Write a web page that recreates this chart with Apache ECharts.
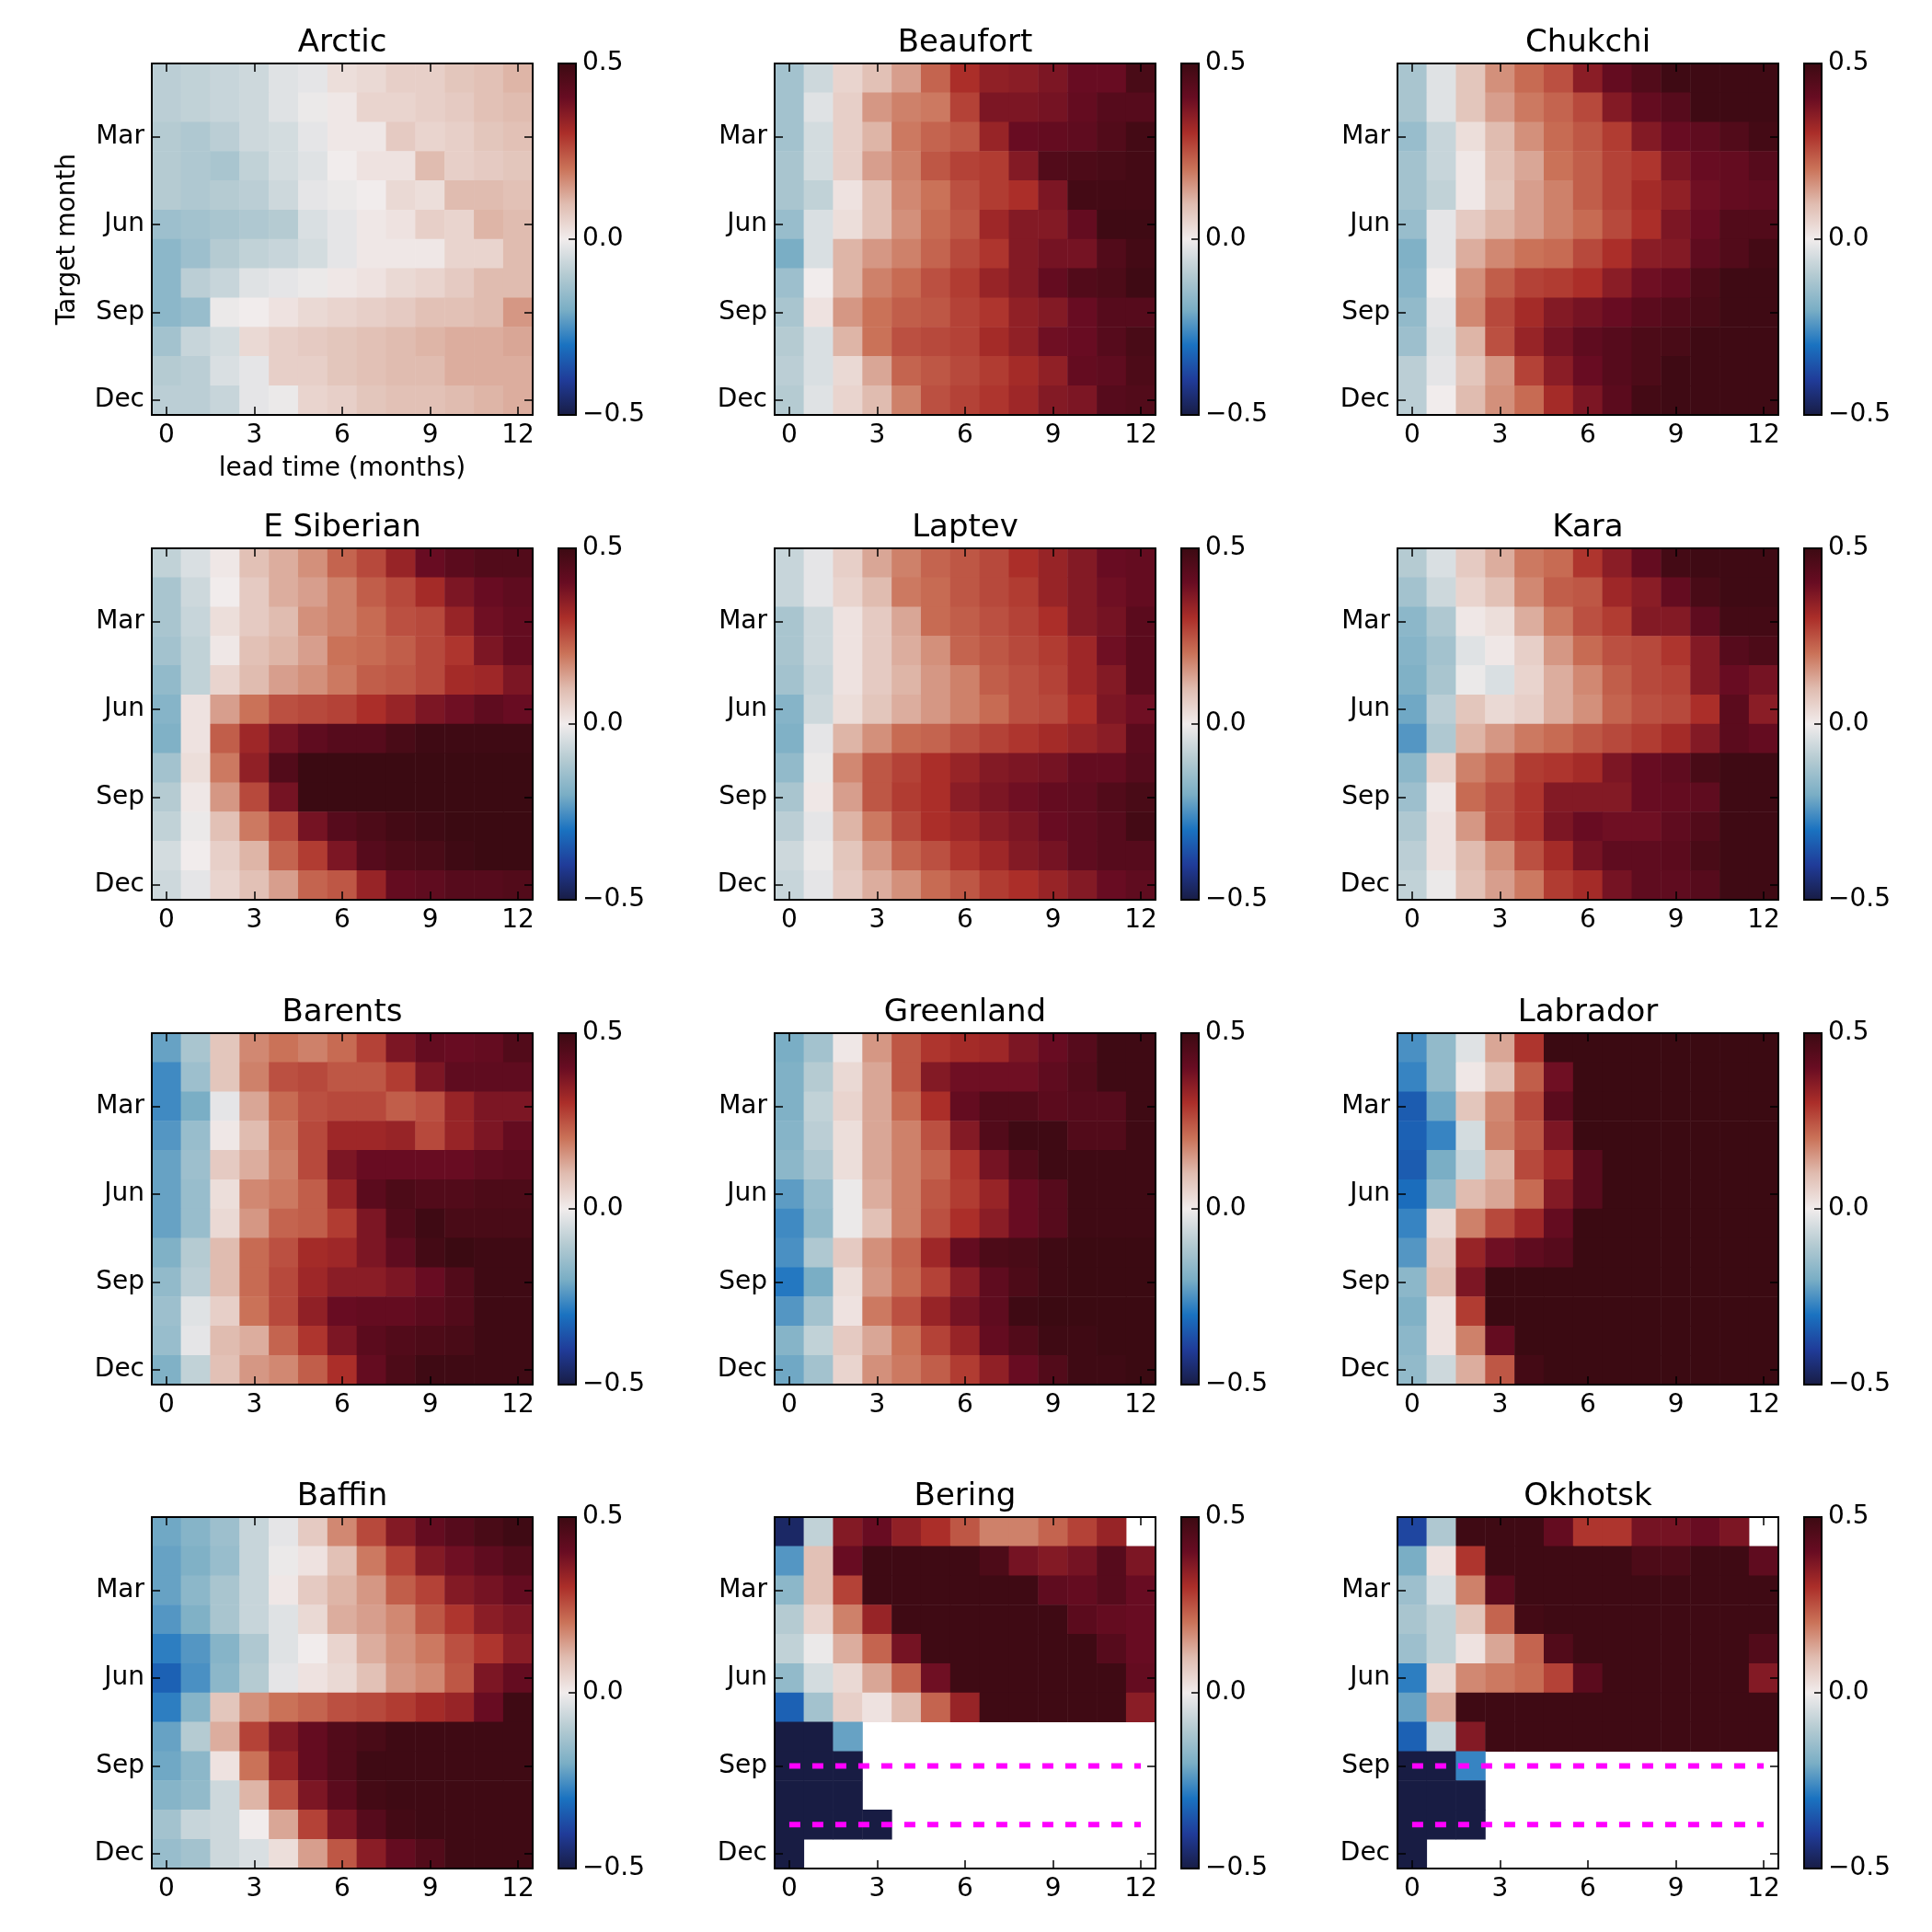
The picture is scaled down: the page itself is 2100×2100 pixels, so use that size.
<!DOCTYPE html>
<html><head><meta charset="utf-8">
<script src="https://cdn.jsdelivr.net/npm/echarts@6/dist/echarts.min.js"></script>
<style>html,body{margin:0;padding:0;background:#fff}#c{width:2100px;height:2100px}</style>
</head><body><div id="c"></div>
<script>
const leads = ['0','1','2','3','4','5','6','7','8','9','10','11','12'];
const months = ['Jan','Feb','Mar','Apr','May','Jun','Jul','Aug','Sep','Oct','Nov','Dec'];
const monthTicks = ['Mar','Jun','Sep','Dec'];
const leadTicks = ['0','3','6','9','12'];
const cbarTicks = [-0.5, 0, 0.5];
const regionNames = ['Arctic','Beaufort','Chukchi','E Siberian','Laptev','Kara','Barents','Greenland','Labrador','Baffin','Bering','Okhotsk'];
const dashedMonths = ['Sep','Nov'];
const dashedRegions = ['Bering','Okhotsk'];
const N = null;

const arctic = [
[-0.09,-0.08,-0.07,-0.06,-0.03,-0.02,0.03,0.04,0.06,0.06,0.08,0.09,0.11],
[-0.09,-0.08,-0.07,-0.06,-0.03,-0.01,0.01,0.05,0.05,0.06,0.07,0.09,0.10],
[-0.10,-0.11,-0.09,-0.06,-0.05,-0.02,0.01,0.01,0.07,0.05,0.06,0.08,0.09],
[-0.10,-0.11,-0.12,-0.08,-0.05,-0.03,0.00,0.02,0.02,0.10,0.06,0.07,0.08],
[-0.10,-0.11,-0.10,-0.09,-0.06,-0.02,-0.01,0.00,0.04,0.03,0.10,0.10,0.09],
[-0.14,-0.13,-0.12,-0.11,-0.10,-0.04,-0.02,0.01,0.02,0.06,0.05,0.11,0.10],
[-0.17,-0.14,-0.10,-0.08,-0.07,-0.05,-0.02,0.01,0.01,0.01,0.05,0.05,0.10],
[-0.17,-0.09,-0.07,-0.03,-0.02,-0.01,0.01,0.02,0.04,0.05,0.07,0.10,0.10],
[-0.17,-0.15,-0.01,0.00,0.02,0.04,0.05,0.06,0.07,0.09,0.09,0.10,0.15],
[-0.13,-0.07,-0.05,0.04,0.06,0.07,0.08,0.09,0.10,0.11,0.12,0.12,0.13],
[-0.10,-0.09,-0.04,-0.02,0.06,0.06,0.08,0.09,0.10,0.10,0.12,0.12,0.12],
[-0.09,-0.09,-0.07,-0.02,-0.01,0.05,0.06,0.08,0.09,0.09,0.10,0.11,0.12]];

const beaufort = [
[-0.13,-0.06,0.05,0.09,0.14,0.22,0.30,0.34,0.35,0.37,0.40,0.40,0.47],
[-0.13,-0.03,0.06,0.15,0.18,0.19,0.27,0.37,0.37,0.38,0.41,0.44,0.44],
[-0.13,-0.05,0.06,0.11,0.19,0.22,0.24,0.33,0.40,0.41,0.42,0.45,0.48],
[-0.12,-0.05,0.06,0.14,0.18,0.24,0.27,0.28,0.36,0.45,0.46,0.47,0.48],
[-0.12,-0.08,0.02,0.09,0.17,0.20,0.25,0.28,0.30,0.37,0.48,0.48,0.48],
[-0.15,-0.04,0.03,0.09,0.16,0.21,0.24,0.32,0.36,0.36,0.41,0.49,0.49],
[-0.20,-0.04,0.11,0.15,0.18,0.22,0.26,0.29,0.36,0.38,0.38,0.45,0.48],
[-0.14,0.00,0.11,0.18,0.21,0.25,0.28,0.33,0.36,0.41,0.45,0.46,0.49],
[-0.12,0.02,0.15,0.20,0.23,0.24,0.27,0.29,0.34,0.36,0.40,0.44,0.44],
[-0.10,-0.04,0.11,0.20,0.25,0.26,0.27,0.31,0.34,0.39,0.40,0.44,0.47],
[-0.09,-0.04,0.04,0.13,0.22,0.24,0.26,0.28,0.31,0.34,0.41,0.42,0.46],
[-0.10,-0.03,0.05,0.10,0.18,0.25,0.27,0.29,0.32,0.36,0.37,0.44,0.45]];

const chukchi = [
[-0.12,-0.03,0.08,0.16,0.21,0.25,0.35,0.41,0.45,0.49,0.49,0.49,0.49],
[-0.12,-0.03,0.08,0.14,0.19,0.22,0.26,0.36,0.41,0.44,0.49,0.49,0.49],
[-0.15,-0.07,0.03,0.10,0.16,0.21,0.24,0.28,0.36,0.40,0.42,0.45,0.48],
[-0.13,-0.07,0.01,0.09,0.13,0.20,0.23,0.27,0.29,0.37,0.40,0.41,0.44],
[-0.13,-0.08,0.01,0.08,0.14,0.18,0.23,0.27,0.31,0.34,0.39,0.41,0.42],
[-0.15,-0.02,0.07,0.11,0.14,0.18,0.21,0.26,0.30,0.37,0.40,0.45,0.45],
[-0.19,-0.02,0.12,0.17,0.20,0.21,0.26,0.30,0.35,0.36,0.42,0.45,0.48],
[-0.18,0.00,0.16,0.23,0.27,0.28,0.30,0.35,0.39,0.41,0.46,0.49,0.49],
[-0.16,-0.02,0.17,0.26,0.31,0.36,0.38,0.40,0.43,0.45,0.47,0.49,0.49],
[-0.14,-0.03,0.11,0.25,0.33,0.38,0.42,0.44,0.46,0.47,0.49,0.49,0.49],
[-0.09,-0.02,0.08,0.15,0.27,0.35,0.40,0.44,0.46,0.49,0.49,0.49,0.49],
[-0.09,0.00,0.10,0.16,0.21,0.31,0.37,0.43,0.48,0.49,0.49,0.49,0.49]];

const eSiberian = [
[-0.08,-0.04,0.01,0.09,0.12,0.16,0.22,0.26,0.33,0.40,0.43,0.45,0.45],
[-0.12,-0.06,0.00,0.07,0.12,0.14,0.18,0.23,0.26,0.31,0.37,0.40,0.42],
[-0.12,-0.07,0.03,0.07,0.10,0.16,0.18,0.21,0.25,0.26,0.33,0.39,0.41],
[-0.13,-0.08,0.01,0.09,0.11,0.14,0.20,0.21,0.23,0.26,0.29,0.37,0.41],
[-0.16,-0.08,0.05,0.10,0.14,0.16,0.19,0.23,0.24,0.26,0.31,0.32,0.37],
[-0.18,0.02,0.14,0.20,0.25,0.26,0.27,0.30,0.33,0.37,0.39,0.42,0.40],
[-0.19,0.02,0.23,0.32,0.38,0.42,0.44,0.44,0.47,0.49,0.49,0.49,0.49],
[-0.13,0.03,0.19,0.34,0.45,0.50,0.50,0.50,0.50,0.50,0.50,0.50,0.50],
[-0.10,0.01,0.15,0.26,0.38,0.50,0.50,0.50,0.50,0.50,0.50,0.50,0.50],
[-0.08,-0.01,0.09,0.19,0.26,0.38,0.44,0.46,0.48,0.49,0.50,0.50,0.50],
[-0.05,0.00,0.06,0.11,0.22,0.28,0.37,0.44,0.46,0.47,0.49,0.50,0.50],
[-0.06,-0.02,0.05,0.09,0.14,0.22,0.24,0.33,0.41,0.42,0.44,0.44,0.45]];

const laptev = [
[-0.07,-0.02,0.06,0.13,0.18,0.22,0.24,0.26,0.30,0.33,0.36,0.40,0.41],
[-0.07,-0.02,0.05,0.10,0.19,0.21,0.24,0.26,0.28,0.33,0.36,0.39,0.41],
[-0.12,-0.06,0.02,0.07,0.13,0.21,0.23,0.25,0.27,0.30,0.36,0.38,0.43],
[-0.12,-0.06,0.02,0.07,0.12,0.16,0.22,0.24,0.26,0.28,0.32,0.39,0.43],
[-0.13,-0.07,0.02,0.07,0.11,0.15,0.18,0.23,0.25,0.27,0.32,0.36,0.43],
[-0.18,-0.06,0.03,0.08,0.12,0.15,0.18,0.21,0.25,0.26,0.30,0.37,0.39],
[-0.19,-0.02,0.11,0.16,0.21,0.22,0.25,0.27,0.29,0.31,0.33,0.35,0.43],
[-0.16,-0.01,0.17,0.24,0.27,0.30,0.33,0.36,0.37,0.38,0.41,0.41,0.44],
[-0.12,0.01,0.14,0.24,0.28,0.30,0.35,0.37,0.39,0.41,0.42,0.45,0.47],
[-0.09,-0.02,0.11,0.19,0.26,0.30,0.32,0.35,0.37,0.40,0.42,0.44,0.48],
[-0.06,-0.01,0.08,0.15,0.22,0.25,0.29,0.32,0.36,0.38,0.42,0.44,0.44],
[-0.07,-0.02,0.07,0.12,0.16,0.21,0.24,0.28,0.30,0.33,0.36,0.40,0.42]];

const kara = [
[-0.10,-0.04,0.07,0.12,0.19,0.21,0.29,0.35,0.41,0.48,0.49,0.49,0.49],
[-0.13,-0.06,0.05,0.09,0.17,0.23,0.24,0.32,0.35,0.41,0.47,0.49,0.49],
[-0.17,-0.11,0.01,0.03,0.12,0.19,0.25,0.28,0.36,0.36,0.42,0.48,0.48],
[-0.18,-0.13,-0.03,0.01,0.06,0.15,0.21,0.25,0.26,0.29,0.36,0.44,0.46],
[-0.19,-0.12,-0.01,-0.04,0.05,0.12,0.17,0.23,0.26,0.27,0.36,0.40,0.38],
[-0.21,-0.09,0.08,0.04,0.06,0.12,0.16,0.22,0.25,0.26,0.30,0.43,0.35],
[-0.24,-0.11,0.11,0.15,0.19,0.21,0.24,0.26,0.28,0.31,0.36,0.43,0.41],
[-0.17,0.05,0.18,0.22,0.28,0.29,0.31,0.37,0.40,0.42,0.47,0.49,0.49],
[-0.14,0.01,0.21,0.25,0.29,0.36,0.36,0.36,0.40,0.41,0.42,0.49,0.49],
[-0.11,0.02,0.15,0.25,0.29,0.37,0.40,0.39,0.39,0.42,0.45,0.49,0.49],
[-0.09,0.02,0.10,0.16,0.25,0.31,0.38,0.42,0.42,0.43,0.47,0.49,0.49],
[-0.08,-0.01,0.09,0.14,0.19,0.28,0.31,0.38,0.42,0.42,0.44,0.49,0.49]];

const barents = [
[-0.22,-0.12,0.08,0.17,0.20,0.18,0.21,0.27,0.37,0.41,0.40,0.41,0.45],
[-0.26,-0.14,0.08,0.18,0.25,0.26,0.24,0.24,0.28,0.37,0.42,0.42,0.42],
[-0.26,-0.20,-0.02,0.13,0.21,0.25,0.26,0.26,0.23,0.25,0.33,0.37,0.37],
[-0.24,-0.15,0.01,0.10,0.19,0.26,0.32,0.32,0.33,0.26,0.33,0.37,0.41],
[-0.22,-0.14,0.07,0.12,0.18,0.26,0.37,0.40,0.40,0.40,0.40,0.42,0.43],
[-0.22,-0.15,0.03,0.17,0.19,0.23,0.33,0.43,0.46,0.45,0.45,0.46,0.46],
[-0.22,-0.15,0.04,0.15,0.22,0.23,0.28,0.37,0.45,0.49,0.47,0.47,0.47],
[-0.19,-0.10,0.10,0.21,0.25,0.31,0.32,0.37,0.42,0.48,0.50,0.49,0.49],
[-0.16,-0.09,0.10,0.21,0.26,0.32,0.35,0.35,0.37,0.40,0.45,0.49,0.49],
[-0.14,-0.03,0.06,0.20,0.26,0.34,0.40,0.41,0.41,0.43,0.45,0.49,0.49],
[-0.15,-0.02,0.10,0.12,0.22,0.29,0.37,0.43,0.45,0.46,0.47,0.49,0.49],
[-0.19,-0.08,0.09,0.15,0.17,0.23,0.30,0.41,0.46,0.49,0.49,0.49,0.49]];

const greenland = [
[-0.20,-0.13,0.01,0.15,0.24,0.29,0.31,0.32,0.37,0.40,0.44,0.49,0.49],
[-0.19,-0.10,0.04,0.13,0.24,0.36,0.39,0.39,0.39,0.42,0.45,0.49,0.49],
[-0.19,-0.08,0.05,0.13,0.21,0.30,0.41,0.45,0.45,0.43,0.44,0.44,0.49],
[-0.18,-0.09,0.03,0.13,0.18,0.25,0.36,0.45,0.49,0.49,0.45,0.45,0.49],
[-0.17,-0.11,0.03,0.13,0.18,0.22,0.29,0.38,0.45,0.49,0.49,0.49,0.49],
[-0.23,-0.15,-0.01,0.12,0.18,0.24,0.28,0.33,0.40,0.44,0.49,0.49,0.49],
[-0.26,-0.16,-0.01,0.09,0.18,0.25,0.30,0.35,0.40,0.44,0.49,0.49,0.49],
[-0.25,-0.11,0.07,0.16,0.22,0.32,0.41,0.46,0.47,0.49,0.50,0.50,0.50],
[-0.29,-0.20,0.03,0.15,0.21,0.27,0.35,0.42,0.46,0.49,0.50,0.50,0.50],
[-0.24,-0.13,0.02,0.19,0.25,0.33,0.38,0.42,0.49,0.50,0.50,0.50,0.50],
[-0.18,-0.08,0.07,0.13,0.20,0.27,0.33,0.41,0.45,0.49,0.49,0.50,0.50],
[-0.21,-0.13,0.05,0.16,0.19,0.23,0.28,0.34,0.40,0.45,0.49,0.49,0.50]];

const labrador = [
[-0.25,-0.16,-0.03,0.13,0.29,0.50,0.50,0.50,0.50,0.50,0.50,0.50,0.50],
[-0.27,-0.16,0.01,0.09,0.23,0.39,0.50,0.50,0.50,0.50,0.50,0.50,0.50],
[-0.34,-0.21,0.08,0.17,0.26,0.43,0.50,0.50,0.50,0.50,0.50,0.50,0.50],
[-0.33,-0.27,-0.05,0.18,0.24,0.37,0.50,0.50,0.50,0.50,0.50,0.50,0.50],
[-0.34,-0.20,-0.07,0.11,0.26,0.32,0.44,0.50,0.50,0.50,0.50,0.50,0.50],
[-0.31,-0.16,0.10,0.13,0.21,0.36,0.44,0.50,0.50,0.50,0.50,0.50,0.50],
[-0.27,0.04,0.18,0.26,0.32,0.41,0.50,0.50,0.50,0.50,0.50,0.50,0.50],
[-0.24,0.07,0.33,0.39,0.42,0.44,0.50,0.50,0.50,0.50,0.50,0.50,0.50],
[-0.17,0.09,0.37,0.50,0.50,0.50,0.50,0.50,0.50,0.50,0.50,0.50,0.50],
[-0.19,0.02,0.28,0.50,0.50,0.50,0.50,0.50,0.50,0.50,0.50,0.50,0.50],
[-0.17,0.02,0.18,0.41,0.50,0.50,0.50,0.50,0.50,0.50,0.50,0.50,0.50],
[-0.16,-0.06,0.12,0.24,0.48,0.50,0.50,0.50,0.50,0.50,0.50,0.50,0.50]];

const baffin = [
[-0.21,-0.18,-0.14,-0.07,-0.02,0.07,0.17,0.26,0.36,0.41,0.44,0.47,0.49],
[-0.22,-0.19,-0.15,-0.07,-0.01,0.02,0.09,0.19,0.27,0.36,0.39,0.42,0.45],
[-0.22,-0.17,-0.12,-0.07,0.01,0.07,0.11,0.15,0.23,0.27,0.36,0.38,0.41],
[-0.24,-0.19,-0.12,-0.07,-0.03,0.04,0.12,0.14,0.17,0.24,0.29,0.35,0.37],
[-0.28,-0.24,-0.18,-0.11,-0.03,0.00,0.05,0.12,0.16,0.19,0.25,0.29,0.35],
[-0.33,-0.25,-0.17,-0.10,-0.02,0.02,0.04,0.09,0.15,0.17,0.24,0.37,0.41],
[-0.28,-0.18,0.08,0.16,0.20,0.22,0.25,0.26,0.28,0.31,0.33,0.40,0.49],
[-0.22,-0.10,0.12,0.27,0.36,0.41,0.45,0.47,0.49,0.49,0.49,0.49,0.49],
[-0.21,-0.17,0.02,0.20,0.33,0.41,0.45,0.49,0.49,0.49,0.49,0.49,0.49],
[-0.18,-0.16,-0.06,0.11,0.25,0.37,0.43,0.48,0.49,0.49,0.49,0.49,0.49],
[-0.13,-0.07,-0.06,0.00,0.13,0.27,0.37,0.44,0.48,0.49,0.49,0.49,0.49],
[-0.15,-0.13,-0.06,-0.04,0.03,0.14,0.24,0.35,0.41,0.45,0.49,0.49,0.49]];

const bering = [
[-0.46,-0.08,0.36,0.40,0.34,0.30,0.24,0.18,0.18,0.22,0.27,0.33,N],
[-0.24,0.09,0.40,0.49,0.49,0.49,0.49,0.46,0.38,0.36,0.38,0.44,0.37],
[-0.17,0.09,0.27,0.49,0.49,0.49,0.49,0.49,0.49,0.42,0.41,0.44,0.40],
[-0.10,0.05,0.18,0.33,0.49,0.49,0.49,0.49,0.49,0.49,0.43,0.41,0.40],
[-0.08,-0.01,0.12,0.22,0.38,0.49,0.49,0.49,0.49,0.49,0.49,0.44,0.40],
[-0.16,-0.05,0.04,0.13,0.22,0.39,0.49,0.49,0.49,0.49,0.49,0.49,0.41],
[-0.33,-0.13,0.06,0.02,0.10,0.22,0.33,0.49,0.49,0.49,0.49,0.49,0.35],
[-0.50,-0.50,-0.22,N,N,N,N,N,N,N,N,N,N],
[-0.50,-0.50,-0.50,N,N,N,N,N,N,N,N,N,N],
[-0.50,-0.50,-0.50,N,N,N,N,N,N,N,N,N,N],
[-0.50,-0.50,-0.50,-0.50,N,N,N,N,N,N,N,N,N],
[-0.50,N,N,N,N,N,N,N,N,N,N,N,N]];

const okhotsk = [
[-0.38,-0.11,0.49,0.49,0.49,0.41,0.29,0.29,0.38,0.38,0.40,0.37,N],
[-0.20,0.02,0.29,0.49,0.49,0.49,0.49,0.49,0.46,0.46,0.49,0.49,0.42],
[-0.14,-0.04,0.18,0.43,0.49,0.49,0.49,0.49,0.49,0.49,0.49,0.49,0.49],
[-0.12,-0.08,0.08,0.22,0.48,0.49,0.49,0.49,0.49,0.49,0.49,0.49,0.49],
[-0.14,-0.08,0.02,0.13,0.22,0.45,0.49,0.49,0.49,0.49,0.49,0.49,0.45],
[-0.28,0.04,0.17,0.19,0.21,0.27,0.43,0.49,0.49,0.49,0.49,0.49,0.36],
[-0.22,0.12,0.49,0.49,0.49,0.49,0.49,0.49,0.49,0.49,0.49,0.49,0.49],
[-0.33,-0.07,0.36,0.49,0.49,0.49,0.49,0.49,0.49,0.49,0.49,0.49,0.49],
[-0.50,-0.50,-0.27,N,N,N,N,N,N,N,N,N,N],
[-0.50,-0.50,-0.50,N,N,N,N,N,N,N,N,N,N],
[-0.50,-0.50,-0.50,N,N,N,N,N,N,N,N,N,N],
[-0.50,N,N,N,N,N,N,N,N,N,N,N,N]];

const regionData = [arctic, beaufort, chukchi, eSiberian, laptev, kara, barents, greenland, labrador, baffin, bering, okhotsk];

// colormap (balance-like), evenly spaced from -0.5 to 0.5
const palette = ['#181c43','#203b98','#1a72c0','#7aaec5','#b5cbd2','#f1ecec','#e0bcb0','#ca7258','#ab2e29','#680c22','#3b0a12'];

// layout
const FONT = '"DejaVu Sans", sans-serif';
const colLeft = [165, 842, 1519];
const rowTop = [69, 596, 1123, 1649];
const PW = 414, PH = 382, CB_OFF = 442, CB_W = 19;

const grid = [], xAxis = [], yAxis = [], series = [], graphic = [];
const heatIdx = [];

function tickMarks(list, cats) { return (i) => list.indexOf(cats[i]) >= 0; }
const axisLineStyle = { show: true, lineStyle: { color: '#000', width: 2 } };
const tickStyle = { show: true, inside: true, length: 9, lineStyle: { color: '#000', width: 1.5 } };

regionNames.forEach((name, i) => {
  const L = colLeft[i % 3], T = rowTop[Math.floor(i / 3)];
  grid.push({ left: L, top: T, width: PW, height: PH, outerBoundsMode: 'none', containLabel: false });
  const xTick = tickMarks(leadTicks, leads);
  const yTick = tickMarks(monthTicks, months);
  xAxis.push({ gridIndex: i, type: 'category', data: leads, position: 'bottom', z: 5,
    axisLine: axisLineStyle, axisTick: Object.assign({}, tickStyle, { interval: xTick, alignWithLabel: true }),
    axisLabel: { interval: xTick, fontSize: 28, fontFamily: FONT, color: '#000', margin: 9 }, splitLine: { show: false } });
  xAxis.push({ gridIndex: i, type: 'category', data: leads, position: 'top', z: 5,
    axisLine: axisLineStyle, axisTick: Object.assign({}, tickStyle, { interval: xTick, alignWithLabel: true }),
    axisLabel: { show: false }, splitLine: { show: false } });
  yAxis.push({ gridIndex: i, type: 'category', data: months, inverse: true, position: 'left', z: 5,
    axisLine: axisLineStyle, axisTick: Object.assign({}, tickStyle, { interval: yTick, alignWithLabel: true }),
    axisLabel: { interval: yTick, fontSize: 28, fontFamily: FONT, color: '#000', margin: 8 }, splitLine: { show: false } });
  yAxis.push({ gridIndex: i, type: 'category', data: months, inverse: true, position: 'right', z: 5,
    axisLine: axisLineStyle, axisTick: Object.assign({}, tickStyle, { interval: yTick, alignWithLabel: true }),
    axisLabel: { show: false }, splitLine: { show: false } });

  const vals = regionData[i];
  const data = [];
  vals.forEach((row, r) => row.forEach((v, c) => { if (v !== null) data.push([c, r, v]); }));
  heatIdx.push(series.length);
  series.push({ type: 'heatmap', xAxisIndex: 2 * i, yAxisIndex: 2 * i, data: data,
    itemStyle: { borderWidth: 0 }, emphasis: { disabled: true }, progressive: 0, z: 2 });

  graphic.push({ type: 'text', x: L + PW / 2, y: T - 22, z: 10,
    style: { text: name, font: '34px ' + FONT, fill: '#000', align: 'center', verticalAlign: 'middle' } });
});

// dashed reference lines (Bering, Okhotsk)
dashedRegions.forEach((name) => {
  const i = regionNames.indexOf(name);
  dashedMonths.forEach((m) => {
    const r = months.indexOf(m);
    series.push({ type: 'line', xAxisIndex: 2 * i, yAxisIndex: 2 * i,
      data: [[0, r], [leads.length - 1, r]], symbol: 'none', silent: true, z: 4,
      lineStyle: { color: '#ff00ff', width: 6, type: [12, 13], cap: 'butt' }, animation: false });
  });
});

// colorbars
const gradStops = palette.slice().reverse().map((c, k) => ({ offset: k / (palette.length - 1), color: c }));
regionNames.forEach((name, i) => {
  const L = colLeft[i % 3], T = rowTop[Math.floor(i / 3)];
  const g = grid.length;
  grid.push({ left: L + CB_OFF, top: T, width: CB_W, height: PH, show: true, outerBoundsMode: 'none',
    backgroundColor: { type: 'linear', x: 0, y: 0, x2: 0, y2: 1, colorStops: gradStops },
    borderColor: '#000', borderWidth: 2 });
  xAxis.push({ gridIndex: g, type: 'category', data: ['cb'], show: false });
  yAxis.push({ gridIndex: g, type: 'value', min: cbarTicks[0], max: cbarTicks[cbarTicks.length - 1], interval: 0.5,
    position: 'right', z: 5, axisLine: axisLineStyle, axisTick: { show: true, inside: true, length: 8, lineStyle: { color: '#000', width: 1.5 } },
    splitLine: { show: false },
    axisLabel: { fontSize: 28, fontFamily: FONT, color: '#000', margin: 7,
      formatter: (v) => (v < 0 ? '\u2212' : '') + Math.abs(v).toFixed(1) } });
});

// axis names on the first panel
graphic.push({ type: 'text', x: colLeft[0] + PW / 2, y: 510, z: 10,
  style: { text: 'lead time (months)', font: '28px ' + FONT, fill: '#000', align: 'center', verticalAlign: 'middle' } });
graphic.push({ type: 'text', x: 74, y: rowTop[0] + PH / 2, rotation: Math.PI / 2, z: 10,
  style: { text: 'Target month', font: '28px ' + FONT, fill: '#000', align: 'center', verticalAlign: 'middle' } });

const chart = echarts.init(document.getElementById('c'), null, { renderer: 'canvas' });
chart.setOption({
  animation: false,
  backgroundColor: '#fff',
  grid: grid, xAxis: xAxis, yAxis: yAxis,
  visualMap: { type: 'continuous', show: false, min: -0.5, max: 0.5, seriesIndex: heatIdx,
    inRange: { color: palette }, outOfRange: { color: palette[0] } },
  series: series,
  graphic: graphic
});
</script></body></html>
